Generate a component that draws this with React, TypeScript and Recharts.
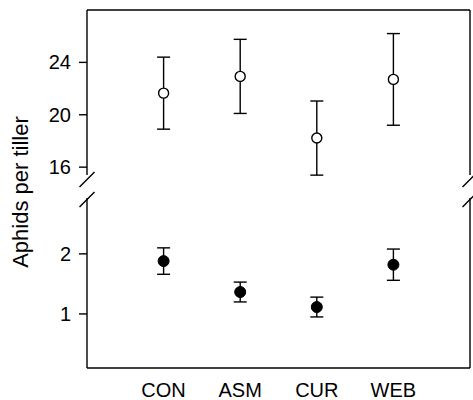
import { ErrorBar, ReferenceLine, Scatter, ScatterChart, XAxis, YAxis } from 'recharts'

const treatments = ['CON', 'ASM', 'CUR', 'WEB']
const positions = [1, 2, 3, 4]
const upperMeans = [21.65, 22.93, 18.22, 22.7]
const upperErrors = [2.75, 2.83, 2.83, 3.5]
const lowerMeans = [1.88, 1.365, 1.115, 1.82]
const lowerErrors = [0.22, 0.165, 0.165, 0.26]
const upperTicks = [16, 20, 24]
const lowerTicks = [1, 2]

const upperData = positions.map((x, i) => ({ x, y: upperMeans[i], err: upperErrors[i] }))
const lowerData = positions.map((x, i) => ({ x, y: lowerMeans[i], err: lowerErrors[i] }))

const W = 473
const H = 400
const INK = '#000'
const tickStyle = { fill: INK, fontSize: 20 }

function OpenDot(props: { cx?: number; cy?: number }) {
  return <circle cx={props.cx} cy={props.cy} r={5} fill="#fff" stroke={INK} strokeWidth={1.4} />
}

function FilledDot(props: { cx?: number; cy?: number }) {
  return <circle cx={props.cx} cy={props.cy} r={5.5} fill={INK} stroke={INK} strokeWidth={1} />
}

// little "//" marks where the axis is broken
function BreakMarks() {
  const marks = [
    [87, 179.5],
    [87, 199.5],
    [470, 179.5],
    [470, 199.5],
  ]
  return (
    <svg width={W} height={H} style={{ position: 'absolute', left: 0, top: 0, pointerEvents: 'none' }}>
      {marks.map(([x, y], i) => (
        <line key={i} x1={x - 7.5} y1={y + 7.5} x2={x + 7.5} y2={y - 7.5} stroke={INK} strokeWidth={1.4} />
      ))}
      <text
        x={0}
        y={0}
        transform="translate(28 192) rotate(-90)"
        textAnchor="middle"
        fontSize={22}
        fill={INK}
      >
        Aphids per tiller
      </text>
    </svg>
  )
}

export default function App() {
  return (
    <div
      style={{
        position: 'absolute',
        left: 0,
        top: 0,
        width: W,
        height: H,
        background: '#fff',
        fontFamily: '"Liberation Sans", Arial, sans-serif',
      }}
    >
      <div style={{ position: 'absolute', left: 0, top: 0 }}>
        <ScatterChart width={W} height={H} margin={{ top: 10, right: 3, left: 0, bottom: 225 }}>
          <XAxis type="number" dataKey="x" domain={[0, 5]} hide />
          <YAxis
            type="number"
            dataKey="y"
            domain={[15.4, 28]}
            ticks={upperTicks}
            width={87}
            tick={tickStyle}
            tickSize={8}
            tickMargin={8}
            stroke={INK}
            strokeWidth={1.4}
            allowDataOverflow
          />
          <ReferenceLine y={28} stroke={INK} strokeWidth={1.4} />
          <ReferenceLine x={5} stroke={INK} strokeWidth={1.4} />
          <Scatter data={upperData} shape={OpenDot} isAnimationActive={false}>
            <ErrorBar dataKey="err" direction="y" width={6.5} stroke={INK} strokeWidth={1.4} />
          </Scatter>
        </ScatterChart>
      </div>
      <div style={{ position: 'absolute', left: 0, top: 0 }}>
        <ScatterChart width={W} height={H} margin={{ top: 198, right: 3, left: 0, bottom: 0 }}>
          <XAxis
            type="number"
            dataKey="x"
            domain={[0, 5]}
            ticks={positions}
            tickFormatter={(v: number) => treatments[v - 1]}
            height={32}
            tick={tickStyle}
            tickLine={false}
            tickSize={8}
            tickMargin={7}
            stroke={INK}
            strokeWidth={1.4}
          />
          <YAxis
            type="number"
            dataKey="y"
            domain={[0.1, 2.93]}
            ticks={lowerTicks}
            width={87}
            tick={tickStyle}
            tickSize={8}
            tickMargin={8}
            stroke={INK}
            strokeWidth={1.4}
            allowDataOverflow
          />
          <ReferenceLine x={5} stroke={INK} strokeWidth={1.4} />
          <Scatter data={lowerData} shape={FilledDot} isAnimationActive={false}>
            <ErrorBar dataKey="err" direction="y" width={6.5} stroke={INK} strokeWidth={1.4} />
          </Scatter>
        </ScatterChart>
      </div>
      <BreakMarks />
    </div>
  )
}
